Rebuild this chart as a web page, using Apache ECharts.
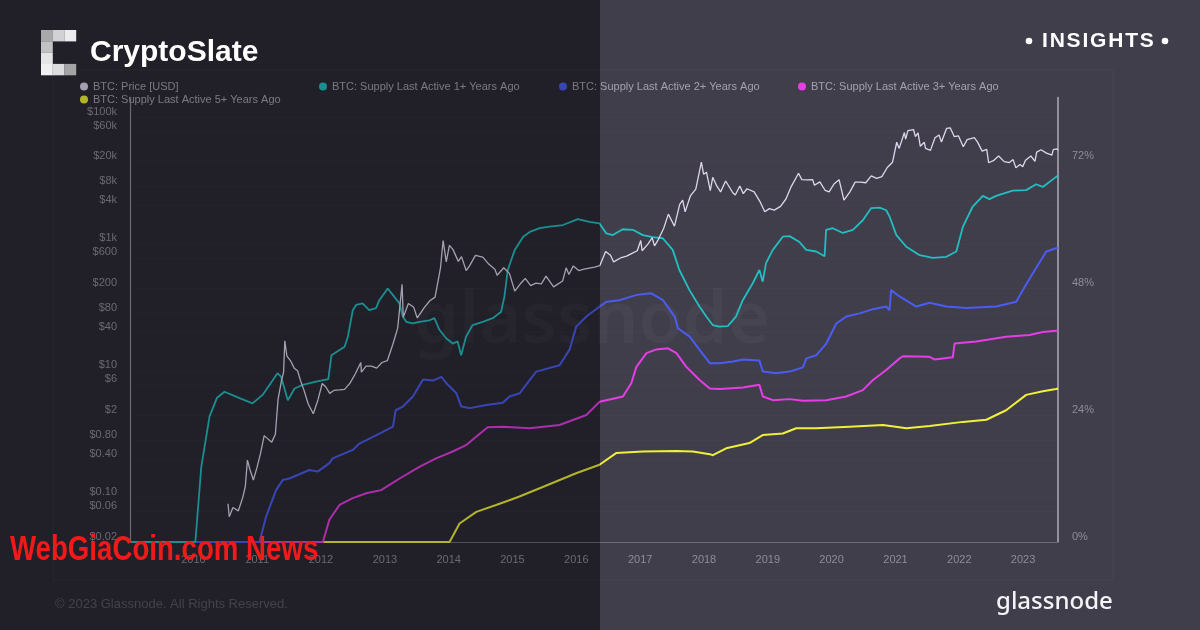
<!DOCTYPE html>
<html><head><meta charset="utf-8">
<script src="https://cdn.jsdelivr.net/npm/echarts@6/dist/echarts.min.js"></script>
<style>html,body{margin:0;padding:0;background:#403e4b;}#c{width:1200px;height:630px;}</style>
</head><body><div id="c"></div>
<script>
// ---------- DATA ----------
const seriesNames = ['BTC: Price [USD]','BTC: Supply Last Active 1+ Years Ago','BTC: Supply Last Active 2+ Years Ago','BTC: Supply Last Active 3+ Years Ago','BTC: Supply Last Active 5+ Years Ago'];
const priceTicks = [100000,60000,20000,8000,4000,1000,600,200,80,40,10,6,2,0.8,0.4,0.1,0.06,0.02];
const priceTickLabels = ['$100k','$60k','$20k','$8k','$4k','$1k','$600','$200','$80','$40','$10','$6','$2','$0.80','$0.40','$0.10','$0.06','$0.02'];
const pctTicks = [0,24,48,72];
const yearTicks = ['2010-01-01','2011-01-01','2012-01-01','2013-01-01','2014-01-01','2015-01-01','2016-01-01','2017-01-01','2018-01-01','2019-01-01','2020-01-01','2021-01-01','2022-01-01','2023-01-01'];
const dateRange = ['2009-01-03','2023-07-20'];

const price = [
['2010-07-18',0.08],['2010-07-25',0.05],['2010-08-15',0.07],['2010-09-15',0.062],['2010-10-10',0.1],['2010-10-25',0.15],['2010-11-06',0.39],['2010-11-20',0.28],['2010-12-10',0.19],['2010-12-31',0.3],
['2011-01-20',0.5],['2011-02-10',0.95],['2011-02-28',0.86],['2011-03-25',0.75],['2011-04-15',1.0],['2011-04-30',3.5],['2011-05-20',7],['2011-06-01',9.5],['2011-06-08',29.6],['2011-06-20',17],['2011-07-10',14.5],['2011-08-01',11],['2011-08-20',10],['2011-09-06',7],['2011-09-25',5],['2011-10-20',3],['2011-11-18',2.1],['2011-12-15',3.5],
['2012-01-08',6.3],['2012-01-30',5.5],['2012-02-20',4.4],['2012-03-15',4.9],['2012-04-15',5],['2012-05-15',5.1],['2012-06-15',6.4],['2012-07-15',8.9],['2012-08-16',13.5],['2012-08-19',9.5],['2012-09-15',11.8],['2012-10-15',11.8],['2012-11-15',11],['2012-12-15',13.5],
['2013-01-15',14.5],['2013-02-15',26],['2013-03-15',47],['2013-04-09',230],['2013-04-16',70],['2013-05-15',115],['2013-06-15',100],['2013-07-05',68],['2013-08-15',100],['2013-09-15',127],['2013-10-15',145],['2013-11-15',420],['2013-11-30',1130],['2013-12-18',520],
['2014-01-05',950],['2014-01-25',820],['2014-02-25',530],['2014-03-15',630],['2014-04-11',380],['2014-04-30',450],['2014-06-03',660],['2014-07-15',620],['2014-08-18',480],['2014-09-22',400],['2014-10-05',320],['2014-11-12',420],['2014-12-15',340],
['2015-01-14',180],['2015-02-15',235],['2015-03-15',285],['2015-04-15',220],['2015-05-15',240],['2015-06-15',235],['2015-07-12',310],['2015-08-24',210],['2015-09-15',230],['2015-10-15',260],['2015-11-04',420],['2015-11-20',330],['2015-12-15',450],
['2016-01-15',380],['2016-02-15',400],['2016-03-15',415],['2016-04-15',430],['2016-05-15',455],['2016-06-17',760],['2016-07-15',660],['2016-08-02',520],['2016-09-15',610],['2016-10-15',640],['2016-11-15',710],['2016-12-15',780],
['2017-01-04',1130],['2017-01-12',780],['2017-02-15',1000],['2017-03-10',1250],['2017-03-24',930],['2017-04-15',1180],['2017-05-15',1750],['2017-06-11',2950],['2017-07-16',1900],['2017-08-15',4200],['2017-09-01',4900],['2017-09-15',3200],['2017-10-15',5700],['2017-11-15',7300],['2017-12-17',19500],['2017-12-30',12500],
['2018-01-15',13500],['2018-02-06',6900],['2018-02-20',11200],['2018-03-15',8200],['2018-04-06',6600],['2018-05-05',9800],['2018-06-15',6400],['2018-06-29',5900],['2018-07-25',8200],['2018-08-14',6200],['2018-09-04',7400],['2018-10-15',6600],['2018-11-20',4500],['2018-12-15',3200],
['2019-01-10',3600],['2019-02-07',3400],['2019-03-15',3900],['2019-04-15',5100],['2019-05-15',8000],['2019-06-26',13000],['2019-07-15',10300],['2019-08-15',10200],['2019-09-15',10300],['2019-09-25',8400],['2019-10-26',9500],['2019-11-25',7000],['2019-12-18',6600],
['2020-01-15',8800],['2020-02-13',10300],['2020-03-12',4900],['2020-04-15',6600],['2020-05-15',9400],['2020-06-15',9400],['2020-07-15',9200],['2020-08-15',11800],['2020-09-15',10800],['2020-10-15',11500],['2020-11-15',16000],['2020-12-15',19400],
['2021-01-08',40000],['2021-01-22',32000],['2021-02-21',57000],['2021-02-28',45000],['2021-03-13',61000],['2021-04-14',63500],['2021-04-25',49000],['2021-05-10',56000],['2021-05-23',34500],['2021-06-15',40000],['2021-06-22',32000],['2021-07-20',29800],['2021-08-15',47000],['2021-09-07',52000],['2021-09-21',40500],['2021-10-20',66000],['2021-11-10',67500],['2021-12-04',49000],['2021-12-27',50500],
['2022-01-24',34000],['2022-02-15',44000],['2022-03-28',47500],['2022-04-15',40500],['2022-05-12',29000],['2022-06-07',31000],['2022-06-18',19000],['2022-07-15',20500],['2022-08-14',24300],['2022-09-15',19800],['2022-10-15',19100],['2022-11-05',21300],['2022-11-21',15800],['2022-12-15',17800],['2022-12-30',16500],
['2023-01-15',20800],['2023-02-15',24300],['2023-03-10',20000],['2023-03-20',28000],['2023-04-14',30500],['2023-05-15',27000],['2023-06-15',25000],['2023-06-23',30700],['2023-07-13',31400],['2023-07-20',29900]
];

const supply1y = [
['2009-01-03',0],['2010-01-12',0],['2010-02-15',14.2],['2010-04-03',23.7],['2010-05-15',27.2],['2010-06-28',28.4],['2010-09-22',27.2],['2010-12-05',26.2],['2011-02-01',27.8],['2011-04-27',31.9],['2011-05-18',31.2],['2011-06-25',26.8],['2011-08-03',29.0],['2011-09-18',29.7],['2011-12-04',30.3],['2012-02-12',30.8],
['2012-03-01',35.3],['2012-05-15',36.9],['2012-06-03',38.8],['2012-07-01',43.8],['2012-07-20',44.8],['2012-08-26',45.1],['2012-10-03',43.8],['2012-11-11',44.2],['2012-11-30',45.7],['2013-01-17',47.9],['2013-02-15',46.7],['2013-03-25',45.1],['2013-04-13',42.6],['2013-05-03',41.6],['2013-06-09',41.3],['2013-07-17',41.6],['2013-09-13',41.9],['2013-10-11',42.3],['2013-11-09',40.1],['2013-12-17',38.5],
['2014-01-24',37.5],['2014-02-21',37.9],['2014-03-13',35.3],['2014-04-10',38.8],['2014-05-18',41.0],['2014-07-15',41.6],['2014-09-10',42.3],['2014-10-28',43.5],['2014-11-16',46.4],['2014-12-05',51.4],['2015-01-14',55.2],['2015-03-03',57.7],['2015-04-10',58.6],['2015-06-06',59.3],['2015-08-01',59.6],['2015-10-17',59.9],['2016-01-10',61.0],['2016-03-17',60.5],['2016-05-13',60.2],['2016-06-21',58.3],['2016-07-28',58.0],['2016-09-23',59.1],['2016-11-20',59.0],
['2017-01-16',58.0],['2017-03-14',57.6],['2017-05-10',57.4],['2017-07-06',55.2],['2017-08-13',51.4],['2017-10-10',47.6],['2017-12-06',44.5],['2018-01-14',42.6],['2018-02-20',41.0],['2018-03-29',40.7],['2018-05-17',40.8],['2018-07-03',42.6],['2018-08-11',45.7],['2018-10-07',48.9],['2018-11-14',51.4],['2018-12-03',49.2],['2018-12-22',52.7],
['2019-01-30',55.2],['2019-03-28',57.7],['2019-05-06',57.8],['2019-07-01',56.7],['2019-08-09',55.2],['2019-10-05',54.9],['2019-11-22',54.0],['2019-12-01',59.0],['2020-01-08',59.3],['2020-03-06',58.4],['2020-05-02',59.0],['2020-06-28',60.8],['2020-08-15',63.1],['2020-10-02',63.2],['2020-11-09',62.7],['2020-11-28',61.5],
['2021-01-06',58.0],['2021-03-04',55.8],['2021-05-19',54.2],['2021-08-03',53.7],['2021-10-19',53.9],['2021-12-15',54.9],['2022-01-22',59.6],['2022-03-19',63.4],['2022-05-16',65.4],['2022-06-23',64.8],['2022-07-31',65.4],['2022-11-03',66.4],['2023-01-19',66.5],['2023-03-17',67.6],['2023-04-24',67.1],['2023-07-09',69.0],['2023-07-20',69.2]
];

const supply2y = [
['2009-01-03',0],['2011-01-14',0],['2011-02-21',4.8],['2011-04-19',9.8],['2011-05-27',11.7],['2011-07-04',12.0],['2011-10-27',13.6],['2011-12-13',13.3],['2012-02-18',14.9],['2012-03-08',15.8],['2012-07-01',17.4],['2012-08-08',18.6],['2012-12-01',20.5],['2013-02-16',21.8],['2013-03-03',24.9],['2013-04-14',25.6],['2013-06-10',27.5],['2013-08-07',30.7],['2013-10-03',30.5],['2013-11-20',31.2],['2013-12-19',30.0],
['2014-02-14',28.1],['2014-03-14',25.6],['2014-05-01',25.3],['2014-08-04',25.9],['2014-11-07',26.3],['2014-12-15',27.5],['2015-02-11',28.1],['2015-04-09',30.6],['2015-05-17',32.2],['2015-09-27',33.4],['2015-11-23',36.3],['2016-01-01',40.7],['2016-02-28',42.6],['2016-05-14',44.5],['2016-06-22',45.4],['2016-09-07',45.7],['2016-12-11',46.7],
['2017-03-06',47.0],['2017-05-11',45.7],['2017-07-17',42.6],['2017-08-05',40.4],['2017-10-11',38.8],['2017-12-07',36.3],['2018-02-03',33.8],['2018-03-31',33.8],['2018-06-16',34.1],['2018-08-12',34.5],['2018-11-14',34.3],['2018-12-04',32.2],['2019-02-19',31.9],['2019-05-06',32.2],['2019-07-21',33.0],['2019-08-10',34.7],['2019-10-06',35.3],['2019-12-02',37.5],
['2020-01-28',41.3],['2020-03-25',42.6],['2020-06-10',43.2],['2020-08-25',44.0],['2020-11-09',44.5],['2020-11-28',43.8],['2020-12-07',47.6],['2021-01-24',46.4],['2021-04-30',44.5],['2021-07-15',45.2],['2021-10-19',44.5],['2022-02-11',44.2],['2022-07-31',44.5],['2022-11-23',45.4],['2022-12-31',47.6],['2023-02-26',50.8],['2023-05-14',54.9],['2023-07-09',55.5],['2023-07-20',55.6]
];

const supply3y = [
['2009-01-03',0],['2012-01-12',0],['2012-02-18',4.2],['2012-04-16',7.0],['2012-07-01',8.3],['2012-09-16',9.2],['2012-12-10',9.8],['2013-03-26',12.0],['2013-07-17',14.2],['2013-10-21',15.8],['2014-01-24',17.1],['2014-04-10',18.3],['2014-06-07',19.9],['2014-08-12',21.7],['2014-11-05',21.8],['2015-04-09',21.5],['2015-09-27',22.1],['2016-02-28',24.0],['2016-05-14',26.5],['2016-09-24',27.5],['2016-11-11',30.0],['2016-12-10',33.1],
['2017-02-06',35.7],['2017-04-04',36.4],['2017-06-09',36.6],['2017-07-27',35.7],['2017-09-22',33.1],['2017-12-07',30.6],['2018-02-03',29.0],['2018-03-31',28.9],['2018-08-12',29.2],['2018-11-14',29.7],['2018-12-04',27.5],['2019-01-30',26.8],['2019-05-06',27.0],['2019-07-21',26.7],['2019-12-02',26.8],['2020-03-25',27.5],['2020-06-28',28.7],['2020-08-25',30.6],['2020-11-09',32.5],
['2021-01-24',34.7],['2021-02-13',35.1],['2021-07-15',35.0],['2021-08-12',34.5],['2021-11-25',34.9],['2021-12-05',37.5],['2022-04-08',37.9],['2022-09-26',38.8],['2023-02-07',39.1],['2023-04-24',39.7],['2023-07-09',39.9],['2023-07-20',40.0]
];

const supply5y = [
['2009-01-03',0],['2014-01-06',0],['2014-03-04',3.5],['2014-06-08',5.7],['2014-09-29',7.0],['2014-12-14',7.9],['2015-02-10',8.6],['2015-06-23',10.4],['2015-12-31',13.0],['2016-05-13',14.6],['2016-08-16',16.8],['2017-01-16',17.1],['2017-07-26',17.2],['2017-10-29',17.1],['2018-02-03',16.6],['2018-02-21',16.4],['2018-05-08',17.7],['2018-09-18',18.7],['2018-12-03',20.2],
['2019-03-28',20.5],['2019-06-13',21.5],['2019-10-05',21.5],['2020-04-13',21.8],['2020-10-21',22.1],['2021-03-04',21.5],['2021-07-15',21.9],['2022-01-22',22.7],['2022-06-05',23.1],['2022-09-26',24.9],['2023-01-19',27.8],['2023-04-24',28.5],['2023-07-09',28.9],['2023-07-20',29.0]
];

// ---------- HELPERS / STYLE ----------
const ts = s => Date.parse(s + 'T00:00:00Z');
const toXY = arr => arr.map(d => [ts(d[0]), d[1]]);
const colors = ['#ddd6ec','#22bfc2','#4b5cf2','#e63ee6','#f0f03a'];
const axisText = '#8e8c99';
const FONT = '"Liberation Sans", Arial, sans-serif';
const chart = echarts.init(document.getElementById('c'), null, {renderer:'canvas'});

function priceLabel(v){
  for (let i=0;i<priceTicks.length;i++){ if (Math.abs(Math.log10(v)-Math.log10(priceTicks[i]))<1e-6) return priceTickLabels[i]; }
  return '';
}

const mctx = document.createElement('canvas').getContext('2d');
const insFont = 'bold 21px ' + FONT;
mctx.font = insFont;
const insEls = [];
let ix = 1042;
for (const ch of 'INSIGHTS'){
  insEls.push({type:'text', x:ix, y:41, z:120, silent:true, style:{text:ch, font:insFont, fill:'#ffffff', textAlign:'left', textVerticalAlign:'middle'}});
  ix += mctx.measureText(ch).width + 1.8;
}

const logoCells = [[0,0,'#a9a9ab'],[1,0,'#d2d2d4'],[2,0,'#ececee'],[0,1,'#c2c2c4'],[0,2,'#e4e4e6'],[0,3,'#f0f0f2'],[1,3,'#dcdcde'],[2,3,'#a4a4a6']];
const logoEls = logoCells.map(c=>({type:'rect', z:120, silent:true, shape:{x:41+c[0]*11.7, y:30+c[1]*11.3, width:11.8, height:11.4}, style:{fill:c[2]}}));

const legends = [
  {name:seriesNames[0], left:80, top:81},
  {name:seriesNames[1], left:319, top:81},
  {name:seriesNames[2], left:559, top:81},
  {name:seriesNames[3], left:798, top:81},
  {name:seriesNames[4], left:80, top:94}
].map(l=>({data:[l.name], left:l.left, top:l.top, padding:0, icon:'circle', itemWidth:8, itemHeight:8, itemGap:5, selectedMode:false,
  textStyle:{color:'#a3a1ae', fontSize:11, fontFamily:FONT}}));

const option = {
  backgroundColor:'#403e4b',
  animation:false,
  legend: legends,
  grid:{left:130, right:142, top:97.5, bottom:88, containLabel:false},
  xAxis:{type:'value', min:ts(dateRange[0]), max:ts(dateRange[1]),
    axisLine:{show:true, onZero:false, lineStyle:{color:'#6c6a77', width:1}},
    axisTick:{show:false, customValues:yearTicks.map(ts)}, splitLine:{show:false},
    axisLabel:{customValues:yearTicks.map(ts), formatter:(v)=>String(new Date(v).getUTCFullYear()), color:axisText, fontSize:11, margin:12, fontFamily:FONT}
  },
  yAxis:[
    {type:'log', logBase:10, min:0.02, max:203000, position:'left',
      axisLine:{show:true, lineStyle:{color:'#8e8c99', width:1.2}},
      axisTick:{show:false, customValues:priceTicks},
      splitLine:{show:true, lineStyle:{color:'rgba(255,255,255,0.018)', width:1}},
      axisLabel:{customValues:priceTicks, formatter:priceLabel, color:axisText, fontSize:11, margin:13, verticalAlign:'bottom', fontFamily:FONT}
    },
    {type:'value', min:0, max:84, position:'right',
      axisLine:{show:true, lineStyle:{color:'#aeacbb', width:1.5}},
      axisTick:{show:false, customValues:pctTicks},
      splitLine:{show:false},
      axisLabel:{customValues:pctTicks, formatter:'{value}%', color:axisText, fontSize:11, margin:14, verticalAlign:'bottom', fontFamily:FONT}
    }
  ],
  series:[
    {name:seriesNames[4], type:'line', yAxisIndex:1, data:toXY(supply5y), symbol:'none', lineStyle:{width:2, color:colors[4]}, itemStyle:{color:colors[4]}, z:2},
    {name:seriesNames[3], type:'line', yAxisIndex:1, data:toXY(supply3y), symbol:'none', lineStyle:{width:2, color:colors[3]}, itemStyle:{color:colors[3]}, z:2},
    {name:seriesNames[2], type:'line', yAxisIndex:1, data:toXY(supply2y), symbol:'none', lineStyle:{width:2, color:colors[2]}, itemStyle:{color:colors[2]}, z:2},
    {name:seriesNames[1], type:'line', yAxisIndex:1, data:toXY(supply1y), symbol:'none', lineStyle:{width:1.8, color:colors[1]}, itemStyle:{color:colors[1]}, z:2},
    {name:seriesNames[0], type:'line', yAxisIndex:0, data:toXY(price), symbol:'none', lineStyle:{width:1.3, color:colors[0]}, itemStyle:{color:colors[0]}, z:3}
  ],
  graphic:[
    {type:'rect', z:-20, silent:true, shape:{x:0,y:0,width:600,height:630}, style:{fill:'#2d2b36'}},
    {type:'rect', z:-15, silent:true, shape:{x:53,y:70,width:1060,height:510}, style:{fill:'none', stroke:'rgba(255,255,255,0.03)', lineWidth:1}},
    {type:'text', z:-10, silent:true, x:592, y:322, style:{text:'glassnode', font:'600 72px "Noto Sans", sans-serif', fill:'rgba(255,255,255,0.03)', textAlign:'center', textVerticalAlign:'middle'}},
    {type:'text', z:-5, silent:true, x:55, y:604, style:{text:'\u00A9 2023 Glassnode. All Rights Reserved.', font:'13px ' + FONT, fill:'#5a5865', textAlign:'left', textVerticalAlign:'middle'}},
    {type:'text', z:110, silent:true, x:996, y:602, style:{text:'glassnode', font:'500 24px "Noto Sans", sans-serif', fill:'#f4f4f7', textAlign:'left', textVerticalAlign:'middle'}},
    {type:'rect', z:100, silent:true, shape:{x:0,y:0,width:600,height:630}, style:{fill:'rgba(0,0,0,0.25)'}},
    ...logoEls,
    {type:'text', z:120, silent:true, x:90, y:53, style:{text:'CryptoSlate', font:'bold 30px ' + FONT, fill:'#ffffff', textAlign:'left', textVerticalAlign:'middle'}},
    {type:'circle', z:120, silent:true, shape:{cx:1029, cy:41, r:3.3}, style:{fill:'#ffffff'}},
    {type:'circle', z:120, silent:true, shape:{cx:1165, cy:41, r:3.3}, style:{fill:'#ffffff'}},
    ...insEls,
    {type:'text', z:130, silent:true, x:10, y:550, scaleX:0.79, style:{text:'WebGiaCoin.com News', font:'bold 35px ' + FONT, fill:'#f01a1a', textAlign:'left', textVerticalAlign:'middle'}}
  ]
};
chart.setOption(option);
</script>
</body></html>
